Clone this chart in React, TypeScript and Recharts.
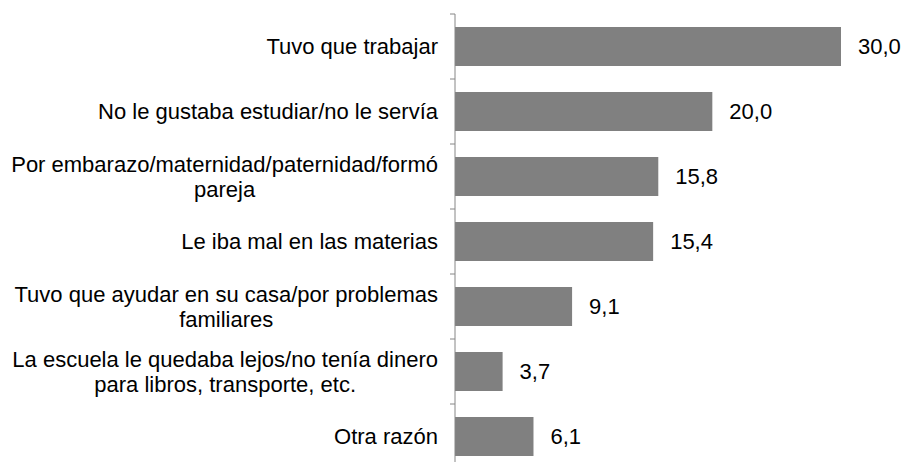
import { BarChart, Bar, XAxis, YAxis, LabelList } from 'recharts';

// Razones de abandono escolar (%)
const categories: string[][] = [
  ['Tuvo que trabajar'],
  ['No le gustaba estudiar/no le servía'],
  ['Por embarazo/maternidad/paternidad/formó', 'pareja'],
  ['Le iba mal en las materias'],
  ['Tuvo que ayudar en su casa/por problemas', 'familiares'],
  ['La escuela le quedaba lejos/no tenía dinero', 'para libros, transporte, etc.'],
  ['Otra razón'],
];
const values = [30.0, 20.0, 15.8, 15.4, 9.1, 3.7, 6.1];

const data = categories.map((lines, i) => ({ name: lines.join(' '), lines, value: values[i] }));

const W = 906;
const H = 480;
const M_TOP = 14;
const M_BOTTOM = 11;
const AXIS_X = 455;
const PLOT_H = H - M_TOP - M_BOTTOM;
const BAND = PLOT_H / categories.length;
const FONT = '"Liberation Sans", Arial, Helvetica, sans-serif';
const LABEL_SIZE = 22;
const LINE_H = 25;

const ctx = typeof document !== 'undefined' ? document.createElement('canvas').getContext('2d') : null;
function textWidth(s: string) {
  if (!ctx) return s.length * LABEL_SIZE * 0.5;
  ctx.font = `${LABEL_SIZE}px ${FONT}`;
  return ctx.measureText(s).width;
}

function CategoryTick(props: any) {
  const { x, y, index } = props;
  const lines: string[] = categories[index] || [];
  const blockW = Math.max(...lines.map(textWidth));
  const cx = x - blockW / 2;
  const n = lines.length;
  return (
    <g>
      <line x1={AXIS_X - 5} x2={AXIS_X} y1={y - BAND / 2} y2={y - BAND / 2} stroke="#868686" />
      {index === categories.length - 1 && (
        <line x1={AXIS_X - 5} x2={AXIS_X} y1={y + BAND / 2} y2={y + BAND / 2} stroke="#868686" />
      )}
      {lines.map((l, i) => (
        <text
          key={i}
          x={cx}
          y={y + (i - (n - 1) / 2) * LINE_H + 0.35 * LABEL_SIZE}
          textAnchor="middle"
          fill="#000"
          fontSize={LABEL_SIZE}
          fontFamily={FONT}
        >
          {l}
        </text>
      ))}
    </g>
  );
}

export default function App() {
  return (
    <div style={{ position: 'absolute', left: 0, top: 0, width: W, height: 462, overflow: 'hidden', background: '#fff' }}>
      <BarChart
        width={W}
        height={H}
        data={data}
        layout="vertical"
        margin={{ top: M_TOP, right: W - AXIS_X - 386, bottom: M_BOTTOM, left: 0 }}
        barCategoryGap="20%"
      >
        <XAxis type="number" domain={[0, 30]} hide />
        <YAxis
          type="category"
          dataKey="name"
          width={AXIS_X}
          axisLine={{ stroke: '#868686' }}
          tickLine={false}
          tickSize={0}
          tickMargin={17}
          interval={0}
          tick={<CategoryTick />}
        />
        <Bar dataKey="value" fill="#808080" isAnimationActive={false}>
          <LabelList
            dataKey="value"
            position="right"
            offset={17}
            formatter={(v: any) => Number(v).toFixed(1).replace('.', ',')}
            fill="#000"
            fontSize={22}
            fontFamily={FONT}
          />
        </Bar>
      </BarChart>
    </div>
  );
}
